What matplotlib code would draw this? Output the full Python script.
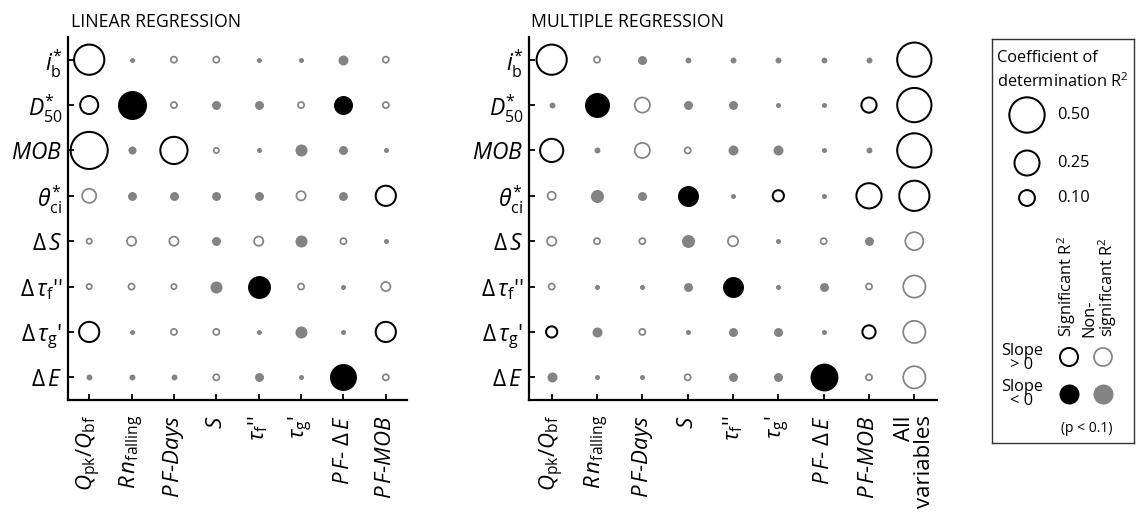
import numpy as np
import matplotlib
matplotlib.use("Agg")
import matplotlib.pyplot as plt

plt.rcParams["font.family"] = ["Open Sans", "DejaVu Sans"]
plt.rcParams["mathtext.fontset"] = "custom"
plt.rcParams["mathtext.rm"] = "Open Sans"
plt.rcParams["mathtext.it"] = "Open Sans:italic"
plt.rcParams["mathtext.bf"] = "Open Sans:bold"

# ---------------- data ----------------
row_labels = [r"$i_{\rm b}^{*}$", r"$D_{50}^{*}$", r"$MOB$", r"$\theta_{\rm ci}^{*}$",
              r"$\Delta\,S$", r"$\Delta\,\tau_{\rm f}$''", r"$\Delta\,\tau_{\rm g}$'", r"$\Delta\,E$"]

lin_cols = [r"$Q_{\rm pk}/Q_{\rm bf}$", r"$R\,n_{\rm falling}$", r"$P\,F$-$Days$", r"$S$",
            r"$\tau_{\rm f}$''", r"$\tau_{\rm g}$'", r"$P\,F$- $\Delta\,E$", r"$P\,F$-$MOB$"]
mult_cols = lin_cols + ["All\nvariables"]

# kind codes: P = significant, slope > 0; N = significant, slope < 0
#             p = non-significant, slope > 0; n = non-significant, slope < 0
lin_kind = [
    "Pnppnnnp",
    "PNpnnpNp",
    "PnPpnnnn",
    "pnnnnpnP",
    "pppnpnpn",
    "pppnNpnp",
    "PnppnnnP",
    "nnnpnnNp",
]
lin_r2 = [
    [0.365, 0.010, 0.015, 0.015, 0.010, 0.010, 0.040, 0.015],
    [0.130, 0.336, 0.015, 0.032, 0.032, 0.015, 0.144, 0.015],
    [0.550, 0.026, 0.296, 0.011, 0.010, 0.058, 0.032, 0.010],
    [0.080, 0.032, 0.032, 0.032, 0.032, 0.034, 0.032, 0.163],
    [0.011, 0.034, 0.034, 0.032, 0.034, 0.058, 0.015, 0.010],
    [0.011, 0.015, 0.011, 0.058, 0.210, 0.015, 0.010, 0.034],
    [0.163, 0.010, 0.015, 0.015, 0.010, 0.058, 0.010, 0.163],
    [0.014, 0.014, 0.014, 0.015, 0.032, 0.010, 0.290, 0.015],
]

mult_kind = [
    "PpnnnnnnP",
    "nNpnnnnPP",
    "PnppnnnnP",
    "pnnNnPnPP",
    "pppnpnpnp",
    "pnnnNnnpp",
    "PnpnnnnPp",
    "nnnpnnNpp",
]
mult_r2 = [
    [0.365, 0.015, 0.032, 0.014, 0.014, 0.014, 0.014, 0.014, 0.470],
    [0.014, 0.250, 0.092, 0.032, 0.032, 0.010, 0.010, 0.092, 0.470],
    [0.215, 0.014, 0.092, 0.015, 0.040, 0.040, 0.010, 0.014, 0.470],
    [0.027, 0.068, 0.032, 0.176, 0.010, 0.050, 0.010, 0.254, 0.365],
    [0.034, 0.015, 0.015, 0.068, 0.042, 0.010, 0.015, 0.032, 0.130],
    [0.015, 0.010, 0.010, 0.032, 0.176, 0.010, 0.032, 0.015, 0.197],
    [0.050, 0.040, 0.015, 0.010, 0.032, 0.032, 0.010, 0.070, 0.197],
    [0.040, 0.010, 0.010, 0.015, 0.032, 0.032, 0.310, 0.015, 0.197],
]

legend_r2 = [0.50, 0.25, 0.10]

# ---------------- styling ----------------
W, H = 1139, 513
GREY = "#838383"
SIZE_K = 1296.0          # marker area (pt^2) per unit R^2
STYLE = {
    "P": dict(fc="none", ec="black", lw=1.45),
    "N": dict(fc="black", ec="black", lw=0.0),
    "p": dict(fc="none", ec=GREY, lw=1.25),
    "n": dict(fc=GREY, ec=GREY, lw=0.0),
}


def px_box(x0, y0, x1, y1):
    """Convert a pixel box (top-left origin) to figure fractions."""
    return [x0 / W, 1 - y1 / H, (x1 - x0) / W, (y1 - y0) / H]


def bubble_panel(ax, kinds, r2, cols):
    nrow, ncol = len(kinds), len(cols)
    for i in range(nrow):
        for j in range(ncol):
            st = STYLE[kinds[i][j]]
            ax.scatter(j, i, s=SIZE_K * r2[i][j], facecolors=st["fc"],
                       edgecolors=st["ec"], linewidths=st["lw"], zorder=3,
                       clip_on=False)
    ax.set_xlim(-0.5, ncol - 0.5)
    ax.set_ylim(nrow - 0.5, -0.5)
    ax.set_xticks(range(ncol))
    ax.set_yticks(range(nrow))
    ax.set_xticklabels(cols, rotation=90, fontsize=16, va="top", ha="center",
                       multialignment="right", linespacing=0.95)
    ax.set_yticklabels(row_labels, fontsize=16.5)
    for side in ("top", "right"):
        ax.spines[side].set_visible(False)
    for side in ("left", "bottom"):
        ax.spines[side].set_linewidth(1.6)
    ax.tick_params(direction="in", length=4, width=1.3)
    ax.tick_params(axis="x", pad=11)
    ax.tick_params(axis="y", pad=4)


fig = plt.figure(figsize=(W / 100, H / 100), dpi=100)

ax1 = fig.add_axes(px_box(68, 37, 407, 400))
bubble_panel(ax1, lin_kind, lin_r2, lin_cols)
fig.text(71 / W, 1 - 27 / H, "LINEAR REGRESSION", fontsize=12.7,
         ha="left", va="baseline")

ax2 = fig.add_axes(px_box(529, 37, 937, 400))
bubble_panel(ax2, mult_kind, mult_r2, mult_cols)
fig.text(531 / W, 1 - 27 / H, "MULTIPLE REGRESSION", fontsize=12.7,
         ha="left", va="baseline")

# ---------------- legend panel ----------------
lg = fig.add_axes(px_box(992, 39, 1134, 443))
lg.set_xlim(992, 1134)
lg.set_ylim(443, 39)
lg.set_xticks([])
lg.set_yticks([])
for sp in lg.spines.values():
    sp.set_linewidth(1.0)
    sp.set_color("#333333")

LFS = 11.8
lg.text(997, 58, "Coefficient of", fontsize=LFS, va="center", ha="left")
lg.text(997, 82, "determination R$^2$", fontsize=LFS, va="center", ha="left")
for yy, v in zip([115, 163, 198], legend_r2):
    lg.scatter(1027, yy, s=SIZE_K * v, facecolors="none", edgecolors="black",
               linewidths=1.45, clip_on=False)
    lg.text(1057, yy, f"{v:.2f}", fontsize=LFS, va="center", ha="left")

lg.text(1067, 337, "Significant R$^2$", rotation=90, fontsize=LFS,
        ha="center", va="bottom")
lg.text(1100, 337, "Non-\nsignificant R$^2$", rotation=90, fontsize=LFS,
        ha="center", va="bottom", multialignment="left", linespacing=0.95)

lg.text(1022, 358, "Slope\n> 0", fontsize=LFS, ha="center", va="center",
        linespacing=0.8)
lg.text(1022, 394, "Slope\n< 0", fontsize=LFS, ha="center", va="center",
        linespacing=0.8)
for (xx, yy), code in zip([(1069, 357), (1103, 357), (1069, 394), (1103, 394)],
                          ["P", "p", "N", "n"]):
    st = STYLE[code]
    size = 0.13 if code in "Pp" else 0.16
    lg.scatter(xx, yy, s=SIZE_K * size, facecolors=st["fc"], edgecolors=st["ec"],
               linewidths=st["lw"], clip_on=False)
lg.text(1087, 428, "(p < 0.1)", fontsize=10, ha="center", va="center")

fig.savefig("out.png", dpi=100)
